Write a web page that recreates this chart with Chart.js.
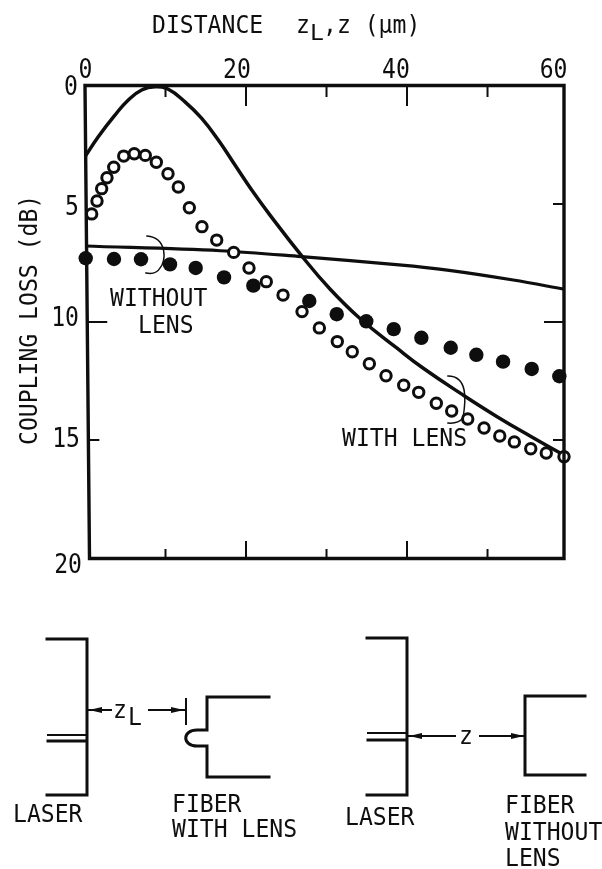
<!DOCTYPE html>
<html>
<head>
<meta charset="utf-8">
<title>Coupling loss vs distance</title>
<style>
  html, body { margin: 0; padding: 0; background: #fff; }
  #chart { display: block; }
</style>
<script src="https://cdn.jsdelivr.net/npm/chart.js"></script>
</head>
<body>
<canvas id="chart" width="602" height="869"></canvas>
<script>
// data: x = distance (um), y = coupling loss (dB)
const lensCurveX = [0, 1.65, 3.73, 5.38, 7.04, 8.7, 10.35, 12.42, 14.5, 16.56, 18.63, 20.71, 22.98, 26.92, 30.43, 34.16, 38.72, 42.02, 46.99, 51.14, 55.28, 59.5];
const lensCurveY = [3.0, 2.15, 1.23, 0.59, 0.17, 0.03, 0.14, 0.67, 1.37, 2.29, 3.35, 4.41, 5.47, 7.2, 8.6, 9.85, 11.1, 11.96, 13.1, 14.0, 14.83, 15.64];

const bareCurveX = [0, 16.8, 26.9, 39, 45, 53.2, 59.5];
const bareCurveY = [6.78, 6.98, 7.23, 7.58, 7.8, 8.22, 8.61];

const lensPointsX = [0.83, 1.49, 2.07, 2.73, 3.57, 4.81, 6.12, 7.49, 8.86, 10.31, 11.59, 12.96, 14.53, 16.36, 18.47, 20.37, 22.52, 24.6, 26.96, 29.11, 31.34, 33.2, 35.32, 37.39, 39.59, 41.45, 43.64, 45.55, 47.54, 49.57, 51.52, 53.33, 55.37, 57.3, 59.5];
const lensPointsY = [5.42, 4.87, 4.35, 3.89, 3.44, 2.97, 2.87, 2.94, 3.23, 3.72, 4.28, 5.16, 5.96, 6.53, 7.05, 7.71, 8.29, 8.86, 9.56, 10.25, 10.83, 11.26, 11.77, 12.28, 12.68, 12.98, 13.44, 13.77, 14.11, 14.49, 14.83, 15.08, 15.37, 15.55, 15.71];

const barePointsX = [0.09, 3.6, 6.96, 10.56, 13.75, 17.27, 20.91, 27.86, 31.27, 34.94, 38.35, 41.78, 45.43, 48.61, 51.93, 55.49, 58.92];
const barePointsY = [7.30, 7.33, 7.34, 7.56, 7.71, 8.11, 8.46, 9.11, 9.67, 9.97, 10.30, 10.67, 11.09, 11.39, 11.68, 11.99, 12.3];

const xTickLabels = ['0', '20', '40', '60'];
const yTickLabels = ['0', '5', '10', '15', '20'];
const xMajorTicks = [20, 40];
const xMinorTicks = [10, 30, 50];
const yTicks = [5, 10, 15];

const INK = '#0e0e0e';
const FONT = '"DejaVu Sans Mono", monospace';

// lettering is a narrow stencil, so squeeze the mono font to its pitch
function label(ctx, text, x, y, size) {
    const s = size || 24.5;
    ctx.save();
    ctx.font = s + 'px ' + FONT;
    ctx.translate(x, y);
    ctx.scale(13.9 / (s * 0.602), 1);
    ctx.fillText(text, 0, 0);
    ctx.restore();
}

function zip(xs, ys) {
    return xs.map((x, i) => ({ x: x, y: ys[i] }));
}

function seg(ctx, x1, y1, x2, y2, w) {
    ctx.lineWidth = w || 3;
    ctx.beginPath();
    ctx.moveTo(x1, y1);
    ctx.lineTo(x2, y2);
    ctx.stroke();
}

function poly(ctx, pts, w) {
    ctx.lineWidth = w || 3;
    ctx.beginPath();
    pts.forEach((p, i) => i ? ctx.lineTo(p[0], p[1]) : ctx.moveTo(p[0], p[1]));
    ctx.stroke();
}

// thin arrow ending at (x2, y)
function arrow(ctx, x1, x2, y) {
    seg(ctx, x1, y, x2, y, 2);
    const d = x2 > x1 ? -1 : 1;
    ctx.beginPath();
    ctx.moveTo(x2, y);
    ctx.lineTo(x2 + d * 13, y - 3);
    ctx.lineTo(x2 + d * 13, y + 3);
    ctx.closePath();
    ctx.fill();
}

// the frame, the inward ticks and all the lettering
const paperPlugin = {
    id: 'paper',
    afterDraw(chart) {
        const ctx = chart.ctx;
        const a = chart.chartArea;
        const sx = chart.scales.x;
        const sy = chart.scales.y;
        ctx.save();
        ctx.strokeStyle = INK;
        ctx.fillStyle = INK;
        ctx.lineCap = 'square';
        ctx.textBaseline = 'alphabetic';

        // frame, the left side of the scan leans a few pixels
        const lean = 4.5;
        const leftAt = py => a.left + lean * (py - a.top) / (a.bottom - a.top);
        ctx.lineJoin = 'miter';
        ctx.lineWidth = 3.4;
        ctx.beginPath();
        ctx.moveTo(a.left, a.top - 0.5);
        ctx.lineTo(a.right, a.top - 0.5);
        ctx.lineTo(a.right, a.bottom + 0.5);
        ctx.lineTo(a.left + lean, a.bottom + 0.5);
        ctx.closePath();
        ctx.stroke();

        // ticks point into the plot
        xMajorTicks.forEach(v => {
            const px = sx.getPixelForValue(v);
            seg(ctx, px, a.top, px, a.top + 19, 2);
            seg(ctx, px, a.bottom, px, a.bottom - 16, 2);
        });
        xMinorTicks.forEach(v => {
            const px = sx.getPixelForValue(v);
            seg(ctx, px, a.top, px, a.top + 10, 2);
            seg(ctx, px, a.bottom, px, a.bottom - 8, 2);
        });
        yTicks.forEach(v => {
            const py = sy.getPixelForValue(v);
            const len = v === 10 ? 19 : 10;
            seg(ctx, a.right, py, a.right - len, py, 2);
            if (v !== 5) seg(ctx, leftAt(py), py, leftAt(py) + len, py, 2);
        });

        // tick labels sit a little off their ticks in the original
        const xNudge = [0.5, -9, -11, -14.5];
        xTickLabels.forEach((t, i) => {
            const w = t.length * 13.9;
            label(ctx, t, sx.getPixelForValue(Number(t)) + xNudge[i] - w / 2, 78, 26);
        });
        const yRight = [78, 79, 79, 80, 82];
        const yNudge = [9, 11, 4, 7, 14.5];
        yTickLabels.forEach((t, i) => {
            const w = t.length * 13.9;
            label(ctx, t, yRight[i] - w, sy.getPixelForValue(Number(t)) + yNudge[i], 26);
        });

        // axis titles
        label(ctx, 'DISTANCE', 152, 33);
        label(ctx, 'z', 296, 33);
        label(ctx, 'L', 310, 40, 22);
        label(ctx, ',z (\u00b5m)', 323, 33);
        ctx.save();
        ctx.translate(37, 445);
        ctx.rotate(-Math.PI / 2);
        label(ctx, 'COUPLING LOSS (dB)', 0, 0);
        ctx.restore();

        // curve annotations
        label(ctx, 'WITHOUT', 110, 306);
        label(ctx, 'LENS', 138, 333);
        label(ctx, 'WITH LENS', 342, 446);
        ctx.lineWidth = 1.5;
        ctx.beginPath();
        ctx.moveTo(147, 236);
        ctx.bezierCurveTo(168, 238, 166, 262, 160, 268);
        ctx.quadraticCurveTo(156, 275, 146, 273);
        ctx.moveTo(448, 376);
        ctx.bezierCurveTo(468, 376, 466, 400, 463, 418);
        ctx.quadraticCurveTo(458, 424, 448, 423);
        ctx.stroke();

        // left sketch: laser and fiber with lens
        poly(ctx, [[47, 639], [87, 639], [87, 795], [47, 795]]);
        seg(ctx, 48, 735, 85, 735, 2);
        seg(ctx, 48, 741, 85, 741, 3);
        arrow(ctx, 111, 89, 710);
        arrow(ctx, 149, 184, 710);
        seg(ctx, 186, 699, 186, 724, 2);
        label(ctx, 'z', 113, 718);
        label(ctx, 'L', 128, 725);
        ctx.lineWidth = 3;
        ctx.beginPath();
        ctx.moveTo(269, 697);
        ctx.lineTo(207, 697);
        ctx.lineTo(207, 730);
        ctx.lineTo(197, 730);
        ctx.bezierCurveTo(182, 730, 182, 746, 197, 746);
        ctx.lineTo(207, 746);
        ctx.lineTo(207, 777);
        ctx.lineTo(269, 777);
        ctx.stroke();
        label(ctx, 'LASER', 13, 822);
        label(ctx, 'FIBER', 172, 812);
        label(ctx, 'WITH LENS', 172, 837);

        // right sketch: laser and fiber without lens
        poly(ctx, [[367, 638], [407, 638], [407, 795], [367, 795]]);
        seg(ctx, 368, 733, 405, 733, 2);
        seg(ctx, 368, 740, 405, 740, 3);
        arrow(ctx, 455, 409, 736);
        arrow(ctx, 480, 524, 736);
        label(ctx, 'z', 459, 744);
        poly(ctx, [[585, 696], [525, 696], [525, 775], [585, 775]]);
        label(ctx, 'LASER', 345, 825);
        label(ctx, 'FIBER', 505, 813);
        label(ctx, 'WITHOUT', 505, 840);
        label(ctx, 'LENS', 505, 866);

        ctx.restore();
    }
};

new Chart(document.getElementById('chart').getContext('2d'), {
    type: 'scatter',
    data: {
        datasets: [
            {
                label: 'With lens (measured)',
                data: zip(lensPointsX, lensPointsY),
                pointRadius: 5.2,
                pointBorderWidth: 3,
                pointBackgroundColor: '#fff',
                pointBorderColor: INK,
                showLine: false,
                clip: false,
                order: 1
            },
            {
                label: 'Without lens (measured)',
                data: zip(barePointsX, barePointsY),
                pointRadius: 7.2,
                pointBorderWidth: 0,
                pointBackgroundColor: INK,
                showLine: false,
                clip: false,
                order: 2
            },
            {
                label: 'With lens (calculated)',
                data: zip(lensCurveX, lensCurveY),
                showLine: true,
                borderColor: INK,
                borderWidth: 3.5,
                tension: 0.45,
                pointRadius: 0,
                order: 3
            },
            {
                label: 'Without lens (calculated)',
                data: zip(bareCurveX, bareCurveY),
                showLine: true,
                borderColor: INK,
                borderWidth: 3.2,
                tension: 0.35,
                pointRadius: 0,
                order: 4
            }
        ]
    },
    options: {
        responsive: false,
        animation: false,
        layout: { padding: { left: 85, top: 86, right: 38, bottom: 311 } },
        plugins: { legend: { display: false }, tooltip: { enabled: false } },
        scales: {
            x: { display: false, type: 'linear', position: 'top', min: 0, max: 59.5 },
            y: { display: false, type: 'linear', reverse: true, min: 0, max: 20 }
        }
    },
    plugins: [paperPlugin]
});
</script>
</body>
</html>
